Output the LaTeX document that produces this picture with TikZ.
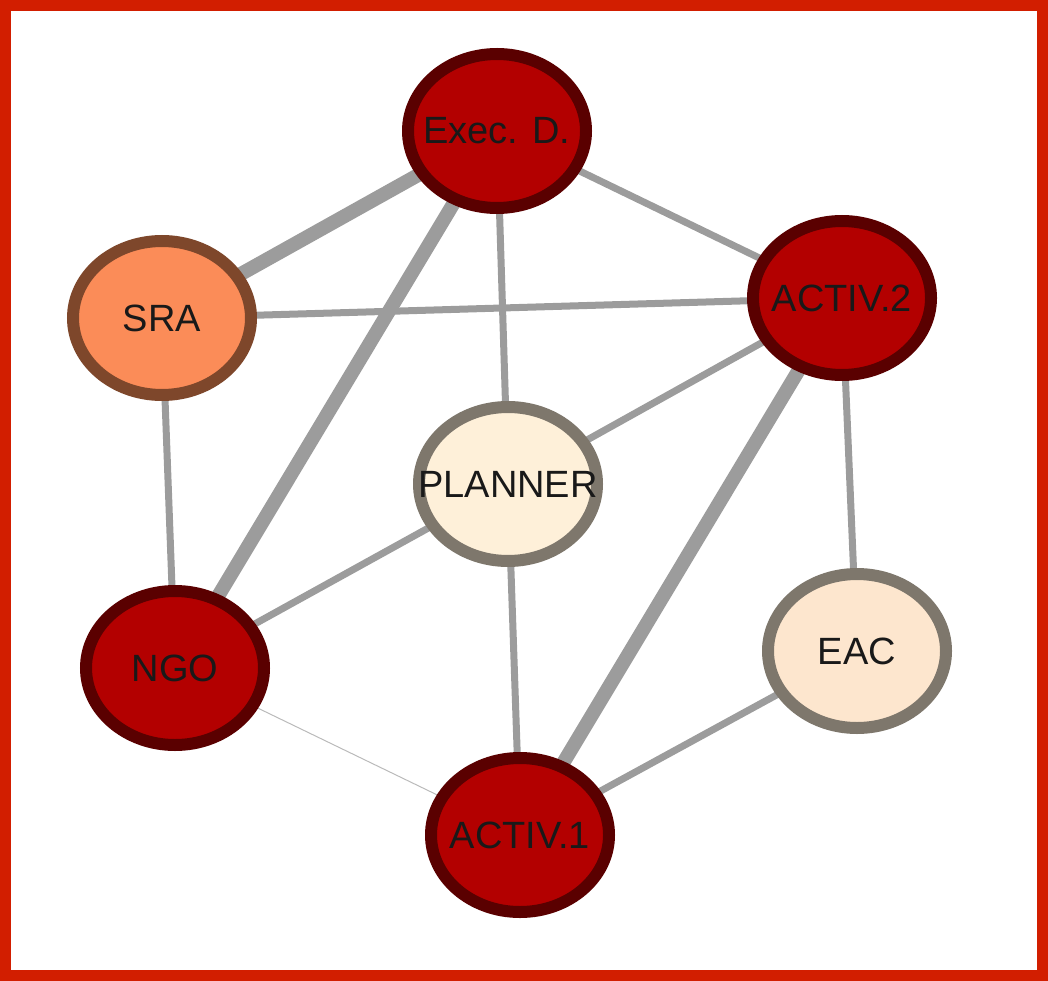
\documentclass[tikz,border=0pt]{standalone}
\usepackage{fontspec}
\setmainfont{Liberation Sans}
\usetikzlibrary{shapes.geometric,backgrounds}

\definecolor{framered}{HTML}{D21E00}
\definecolor{darkfill}{HTML}{B30000}
\definecolor{darkline}{HTML}{5A0000}
\definecolor{srafill}{HTML}{FB8C58}
\definecolor{sraline}{HTML}{7E472B}
\definecolor{lightfill}{HTML}{FEF0D9}
\definecolor{eacfill}{HTML}{FDE6CE}
\definecolor{lightline}{HTML}{7E776C}
\definecolor{linkgray}{HTML}{9C9C9C}

% texte sans effet sur la taille du noeud
\newcommand{\actorname}[1]{\makebox[0pt]{#1}}

\tikzset{
    actor/.style={ellipse, line width=12pt, minimum width=178pt, minimum height=154pt,
        inner sep=0pt, text=black!90, font=\fontsize{38}{44}\selectfont},
    strong/.style={actor, fill=darkfill, draw=darkline},
    middle/.style={actor, fill=srafill, draw=sraline},
    weak/.style={actor, fill=lightfill, draw=lightline},
    link/.style={linkgray, line width=7pt},
    heavylink/.style={linkgray, line width=14pt},
    faintlink/.style={linkgray!70, line width=1pt}
}

\begin{document}
\begin{tikzpicture}[x=1pt, y=-1pt]
        \useasboundingbox (0,0) rectangle (1048,981);

        % Cadre
        \draw[framered, line width=11pt] (5.5,5.5) rectangle (1042.5,975.5);

        % Acteurs
        \node[strong] (exec) at (497,131) {\actorname{Exec. D.}};
        \node[middle] (sra) at (162,318) {\actorname{SRA}};
        \node[strong] (act2) at (842,298) {\actorname{ACTIV.2}};
        \node[weak] (plan) at (508,484) {\actorname{PLANNER}};
        \node[strong] (ngo) at (175,668) {\actorname{NGO}};
        \node[weak, fill=eacfill] (eac) at (857,651) {\actorname{EAC}};
        \node[strong] (act1) at (520,835) {\actorname{ACTIV.1}};

        % Liens (sous les noeuds)
        \begin{scope}[on background layer]
            \foreach \a/\b/\w in {
                exec/sra/heavylink,
                exec/ngo/heavylink,
                act2/act1/heavylink,
                exec/plan/link,
                exec/act2/link,
                sra/act2/link,
                sra/ngo/link,
                act2/plan/link,
                act2/eac/link,
                plan/ngo/link,
                plan/act1/link,
                eac/act1/link,
                ngo/act1/faintlink}{
                \draw[\w] (\a.center) -- (\b.center);
            }
        \end{scope}

    \end{tikzpicture}
\end{document}
